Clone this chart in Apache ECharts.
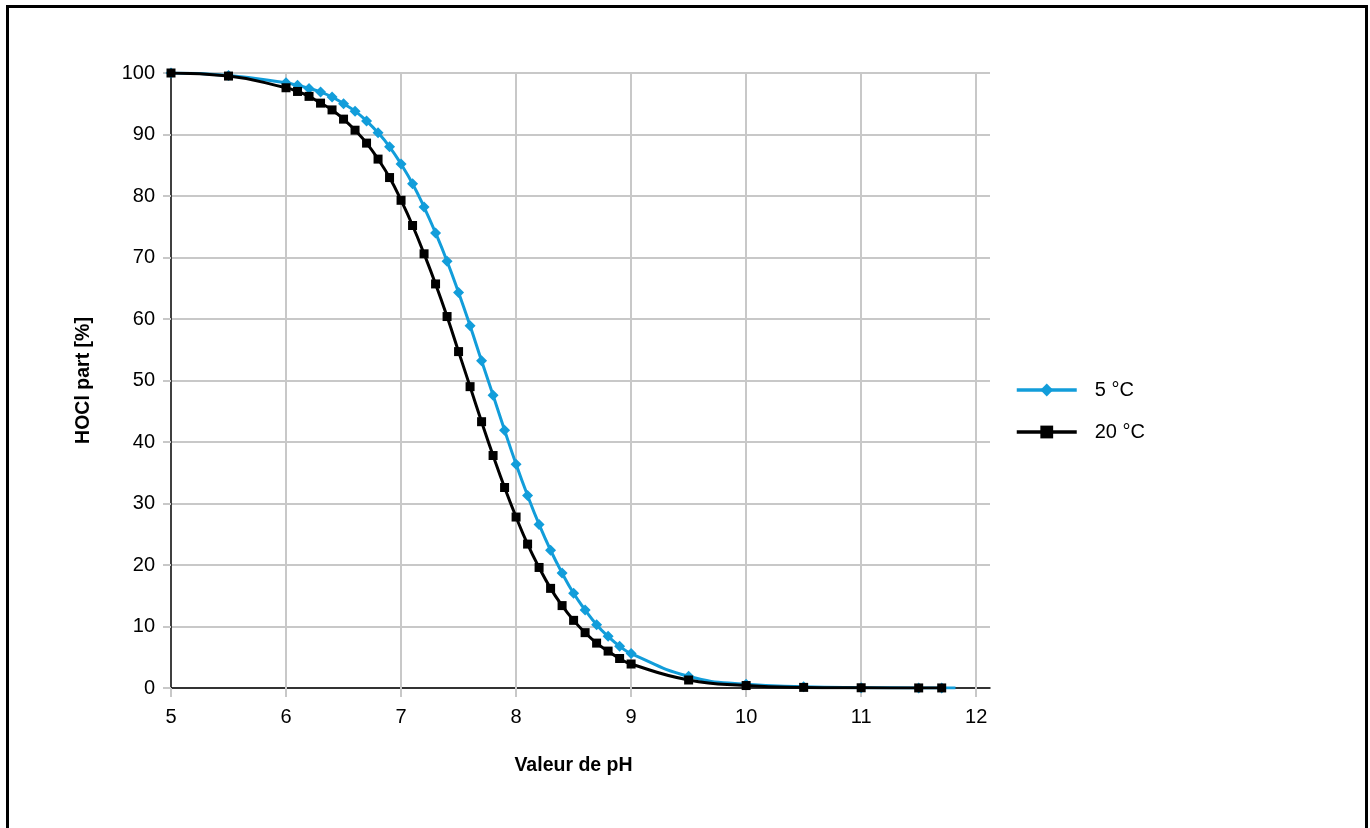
<!DOCTYPE html>
<html>
<head>
<meta charset="utf-8">
<script src="https://cdn.jsdelivr.net/npm/echarts@6/dist/echarts.min.js"></script>
<style>
  html, body { margin: 0; padding: 0; background: #fff; }
  #chart { position: absolute; left: 0; top: 0; width: 1370px; height: 828px; }
  #frame { position: absolute; left: 6px; top: 5px; width: 1356px; height: 900px;
           border: 3px solid #000; pointer-events: none; }
</style>
</head>
<body>
<div id="chart"></div>
<div id="frame"></div>
<script>
// pH values (x)
const phBlue = [5, 5.5, 6, 6.1, 6.2, 6.3, 6.4, 6.5, 6.6, 6.7, 6.8, 6.9, 7, 7.1, 7.2, 7.3, 7.4, 7.5, 7.6, 7.7, 7.8, 7.9,
  8, 8.1, 8.2, 8.3, 8.4, 8.5, 8.6, 8.7, 8.8, 8.9, 9, 9.5, 10, 10.5, 11, 11.5, 11.7, 11.82];
const hoclBlue = [100, 99.6, 98.4, 98, 97.5, 96.9, 96.1, 95, 93.8, 92.2, 90.3, 88, 85.2, 82, 78.2, 74, 69.4, 64.3, 58.9, 53.2, 47.6, 41.9,
  36.4, 31.3, 26.6, 22.4, 18.7, 15.4, 12.7, 10.3, 8.4, 6.8, 5.6, 1.9, 0.6, 0.2, 0.06, 0.02, 0.01, 0.01];

const phBlack = [5, 5.5, 6, 6.1, 6.2, 6.3, 6.4, 6.5, 6.6, 6.7, 6.8, 6.9, 7, 7.1, 7.2, 7.3, 7.4, 7.5, 7.6, 7.7, 7.8, 7.9,
  8, 8.1, 8.2, 8.3, 8.4, 8.5, 8.6, 8.7, 8.8, 8.9, 9, 9.5, 10, 10.5, 11, 11.5, 11.7];
const hoclBlack = [100, 99.5, 97.6, 97, 96.2, 95.1, 94, 92.5, 90.7, 88.6, 86, 83, 79.3, 75.2, 70.6, 65.7, 60.4, 54.7, 49, 43.3, 37.8, 32.6,
  27.8, 23.4, 19.6, 16.2, 13.4, 11, 9, 7.3, 6, 4.8, 3.9, 1.3, 0.4, 0.1, 0.04, 0.01, 0.01];

const xTicks = [5, 6, 7, 8, 9, 10, 11, 12];
const seriesNames = ['5 °C', '20 °C'];
const axisNames = { x: 'Valeur de pH', y: 'HOCl part [%]' };

const BLUE = '#129dda';
const GRID = '#c8c8c8';
const FONT = '"Liberation Sans", Arial, sans-serif';

function pairs(xs, ys) { return xs.map((x, i) => [x, ys[i]]); }

const blueData = pairs(phBlue, hoclBlue).map((p, i) =>
  i === phBlue.length - 1 ? { value: p, symbol: 'none' } : p);

const chart = echarts.init(document.getElementById('chart'), null, { renderer: 'canvas' });
chart.setOption({
  animation: false,
  backgroundColor: '#fff',
  grid: { left: 171, right: 380, top: 73, bottom: 140, containLabel: false },
  legend: {
    orient: 'vertical', left: 1015, top: 380, padding: 0,
    itemWidth: 60, itemHeight: 16, itemGap: 22,
    lineStyle: { width: 3.5 },
    textStyle: { fontFamily: FONT, fontSize: 20, lineHeight: 20, color: '#000', padding: [0, 0, 0, 13] },
    data: seriesNames
  },
  xAxis: {
    type: 'value', min: 5, max: 12.12, interval: 1,
    name: axisNames.x, nameLocation: 'middle', nameGap: 68,
    nameTextStyle: { fontFamily: FONT, fontSize: 19.5, fontWeight: 'bold', color: '#000', padding: [0, 14, 0, 0] },
    axisLine: { show: true, onZero: false, lineStyle: { color: '#000', width: 1.5 } },
    axisTick: { show: true, customValues: xTicks, length: 9, lineStyle: { color: GRID, width: 2 } },
    axisLabel: { customValues: xTicks, margin: 19, fontFamily: FONT, fontSize: 20, color: '#000' },
    splitLine: { show: false }
  },
  yAxis: {
    type: 'value', min: 0, max: 100, interval: 10,
    name: axisNames.y, nameLocation: 'middle', nameGap: 77,
    nameTextStyle: { fontFamily: FONT, fontSize: 19.5, fontWeight: 'bold', color: '#000' },
    axisLine: { show: true, lineStyle: { color: '#000', width: 1.5 } },
    axisTick: { show: true, length: 8, lineStyle: { color: GRID, width: 2 } },
    axisLabel: { margin: 16, fontFamily: FONT, fontSize: 20, color: '#000' },
    splitLine: { show: true, lineStyle: { color: GRID, width: 2 } }
  },
  series: [
    {
      name: 'grid', type: 'line', data: [], z: 1, silent: true,
      markLine: {
        z: 1, silent: true, symbol: 'none', label: { show: false },
        lineStyle: { color: GRID, width: 2, type: 'solid' },
        data: xTicks.filter(v => v > 5).map(v => ({ xAxis: v }))
      }
    },
    {
      name: seriesNames[1], type: 'line', data: pairs(phBlack, hoclBlack),
      smooth: 0.5,
      symbol: 'rect', symbolSize: 9,
      itemStyle: { color: '#000' },
      lineStyle: { color: '#000', width: 3 },
      z: 4
    },
    {
      name: seriesNames[0], type: 'line', data: blueData,
      smooth: 0.5,
      symbol: 'diamond', symbolSize: 11,
      itemStyle: { color: BLUE },
      lineStyle: { color: BLUE, width: 3 },
      z: 3
    }
  ]
});
</script>
</body>
</html>
